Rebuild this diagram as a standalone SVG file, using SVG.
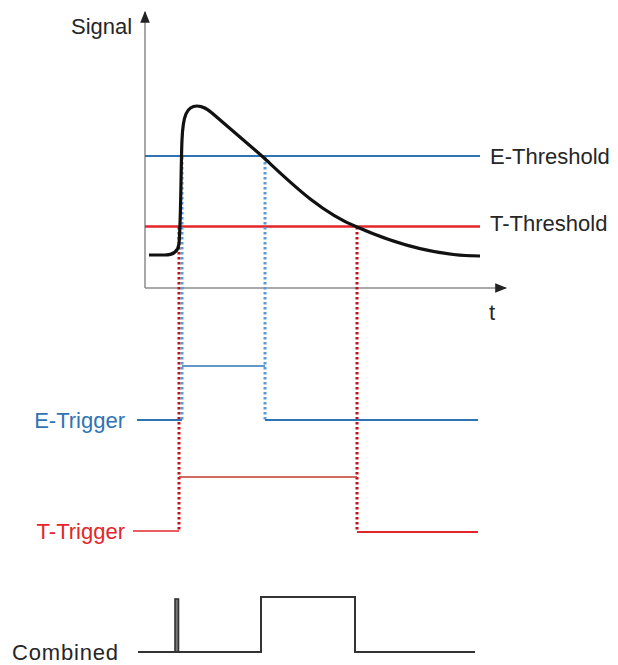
<svg xmlns="http://www.w3.org/2000/svg" width="618" height="665" viewBox="0 0 618 665">
<style>
text{font-family:"Liberation Sans",Arial,sans-serif;font-size:22px;fill:#262626}
.axis{stroke:#8c8c8c;stroke-width:1.5;fill:none}
.blue{stroke:#2e74b5;fill:none}
.red{stroke:#e3262b;fill:none}
.dotr{stroke:#c0121b;stroke-width:3;stroke-dasharray:2.5 2.5;fill:none}
.dotb{stroke:#5b9bd5;stroke-width:3;stroke-dasharray:2.5 2.5;fill:none}
.comb{stroke:#333;stroke-width:2;fill:none}
</style>
<defs>
<marker id="ah2" viewBox="0 0 10 10" refX="9" refY="5" markerWidth="12" markerHeight="12" orient="auto" markerUnits="userSpaceOnUse">
<path d="M0,1 L10,5 L0,9 z" fill="#222"/>
</marker>
</defs>
<rect width="618" height="665" fill="#ffffff"/>
<g id="axes">
<line class="axis" x1="145" y1="288" x2="145" y2="12" marker-end="url(#ah2)"/>
<line class="axis" x1="145" y1="288" x2="506" y2="288" marker-end="url(#ah2)"/>
<text x="71" y="34">Signal</text>
<text x="489" y="320">t</text>
</g>
<g id="thresholds">
<line class="blue" x1="145" y1="156" x2="480" y2="156" stroke-width="2"/>
<line class="red" x1="145" y1="226.5" x2="480" y2="226.5" stroke-width="2.5"/>
<text x="490" y="164">E-Threshold</text>
<text x="490" y="231">T-Threshold</text>
</g>
<g id="connectors">
<line class="dotr" x1="179" y1="227" x2="179" y2="531"/>
<line class="dotb" x1="182" y1="157" x2="182" y2="420"/>
<line class="dotb" x1="265" y1="157" x2="265" y2="420"/>
<line class="dotr" x1="357" y1="227" x2="357" y2="531"/>
</g>
<g id="signal">
<path d="M149,255 L165,255 C173,255 178,252 179,244 C181,220 181,160 182,140 C183,115 187,106 197,106 C203,106 207,109 212,113 L263,157 C290,182 320,212 357,227 C400,246 440,256 480,256" stroke="#111" stroke-width="3.2" fill="none" stroke-linejoin="round"/>
</g>
<g id="e-trigger">
<text x="125" y="428" text-anchor="end" style="fill:#2e74b5">E-Trigger</text>
<polyline class="blue" stroke-width="2" points="137,420 182,420"/>
<polyline class="blue" stroke-width="1.6" points="182,366 265,366"/>
<polyline class="blue" stroke-width="2" points="265,420 478,420"/>
</g>
<g id="t-trigger">
<text x="125" y="539" text-anchor="end" style="fill:#e3262b">T-Trigger</text>
<polyline class="red" stroke-width="1.6" points="133,531 179,531"/>
<polyline stroke="#c0392b" stroke-width="1.6" fill="none" points="179,477 357,477"/>
<polyline class="red" stroke-width="2" points="357,532 478,532"/>
</g>
<g id="combined">
<text x="118" y="660" text-anchor="end" textLength="106">Combined</text>
<rect x="175" y="599" width="3.5" height="53" fill="#777" stroke="#333" stroke-width="1.6"/>
<path class="comb" d="M138,652 L261,652 L261,597 L355,597 L355,652 L475,652"/>
</g>
</svg>
